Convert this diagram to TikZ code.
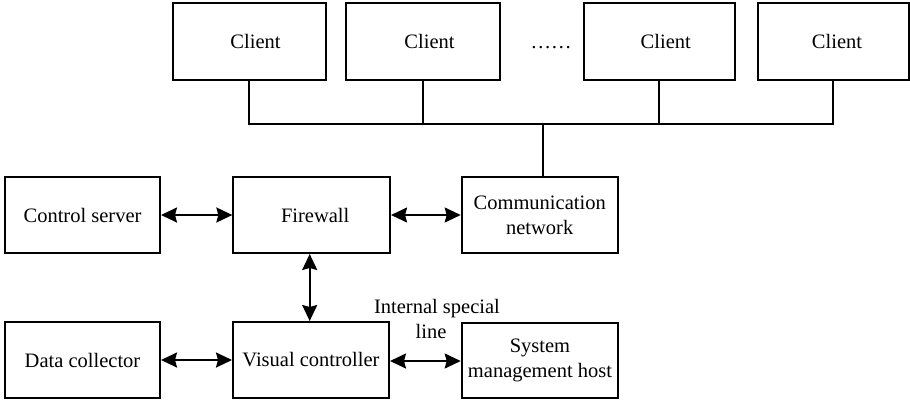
\documentclass[tikz,border=0pt]{standalone}
\usepackage{fontspec}
\setmainfont{Liberation Serif}
\usetikzlibrary{arrows.meta}
\tikzset{
  box/.style={draw, line width=2pt, inner sep=0pt, align=center,
    minimum width=#1, minimum height=76pt, font=\fontsize{20.5}{25}\selectfont},
  box/.default=155pt,
  link/.style={line width=2pt},
  biarrow/.style={line width=2pt, {Stealth[length=16pt,width=15pt,inset=2pt]}-{Stealth[length=16pt,width=15pt,inset=2pt]}},
  txt/.style={inner sep=0pt, align=center, font=\fontsize{20.5}{25}\selectfont}
}
\begin{document}
\begin{tikzpicture}[x=1pt,y=-1pt]
\useasboundingbox (0,0) rectangle (910,400);
% clients
\node[box=153pt, minimum height=77pt] (c1) at (249,41.75) {\hspace*{13pt}Client};
\node[box=154pt, minimum height=77pt] (c2) at (423,41.75) {\hspace*{13pt}Client};
\node[box=151.5pt, minimum height=77pt] (c3) at (659.25,41.75) {\hspace*{13pt}Client};
\node[box=151pt, minimum height=77pt] (c4) at (833,41.75) {\hspace*{8pt}Client};
\node[txt, anchor=base] (dots) at (551,48) {……};
% middle row
\node[box=155pt] (cs) at (82.5,215) {Control server};
\node[box=156.7pt] (fw) at (311.7,215) {\hspace*{7pt}Firewall};
\node[box=156pt] (cn) at (539.7,215) {Communication\\network};
% bottom row
\node[box=155pt] (dc) at (82.5,360) {Data collector};
\node[box=156pt] (vc) at (311,360) {Visual controller};
\node[box=156.6pt, minimum height=75pt] (smh) at (540,360.7) {System\\management host};
\node[txt] (lbl) at (437,319) {Internal special\\line\hspace*{12pt}};
% bus
\coordinate (busy) at (0,123.5);
\draw[link] (c1.south) -- (c1.south |- busy) -- (c4.south |- busy) -- (c4.south);
\draw[link] (c2.south) -- (c2.south |- busy);
\draw[link] (c3.south) -- (c3.south |- busy);
\draw[link] ([xshift=3pt]cn.north) -- ([xshift=3pt]cn.north |- busy);
% arrows
\draw[biarrow] (cs.east) -- (fw.west);
\draw[biarrow] (fw.east) -- (cn.west);
\draw[biarrow] ([xshift=-2pt]fw.south) -- ([xshift=-2pt]fw.south |- vc.north);
\draw[biarrow] (dc.east) -- (vc.west);
\draw[biarrow] ([yshift=-1pt]vc.east) -- ([yshift=-1pt]vc.east -| smh.west);
\end{tikzpicture}
\end{document}
